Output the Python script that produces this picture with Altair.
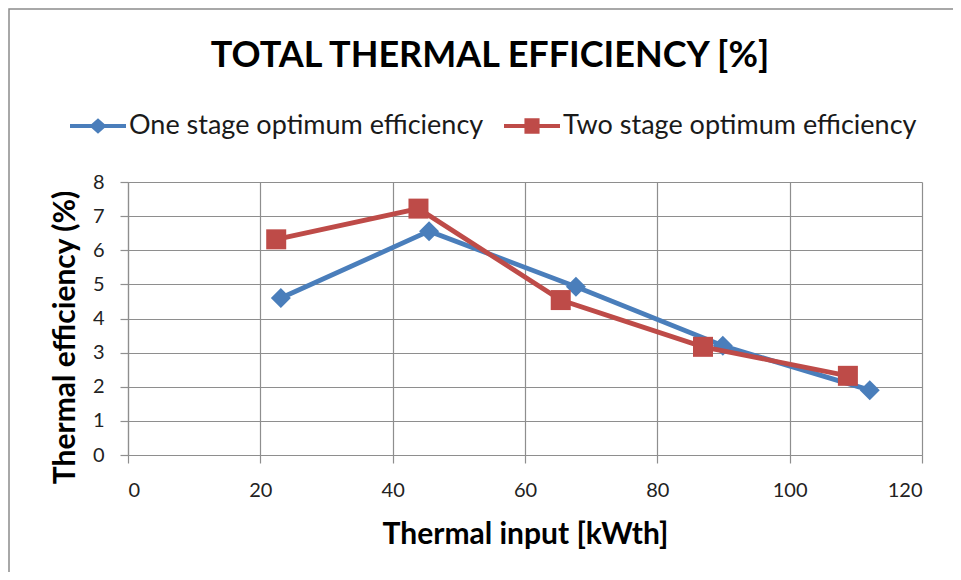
import altair as alt
import pandas as pd

# ---- data ----
series_names = ["One stage optimum efficiency", "Two stage optimum efficiency"]
one_x = [23.1, 45.5, 67.7, 89.9, 112.1]
one_y = [4.60, 6.56, 4.93, 3.20, 1.90]
two_x = [22.4, 43.9, 65.4, 86.9, 108.8]
two_y = [6.32, 7.22, 4.54, 3.17, 2.32]
x_ticks = [0, 20, 40, 60, 80, 100, 120]
y_ticks = [0, 1, 2, 3, 4, 5, 6, 7, 8]
colors = ["#4A7EBB", "#BE4B48"]

rows = []
for xv, yv in zip(one_x, one_y):
    rows.append({"series": series_names[0], "x": xv, "y": yv, "order": len(rows)})
for xv, yv in zip(two_x, two_y):
    rows.append({"series": series_names[1], "x": xv, "y": yv, "order": len(rows)})
df = pd.DataFrame(rows)

FONT = "Lato"
GRID = "#8e8e8e"

# legend symbols: line segment + marker (custom SVG paths in unit box)
legend_paths = [
    "M-1,-0.075L1,-0.075L1,0.075L-1,0.075Z M0,-0.28L0.31,0L0,0.28L-0.31,0Z",
    "M-1,-0.075L1,-0.075L1,0.075L-1,0.075Z M-0.27,-0.28L0.27,-0.28L0.27,0.28L-0.27,0.28Z",
]

xscale = alt.Scale(domain=[0, 120], nice=False, zero=False)
yscale = alt.Scale(domain=[0, 8], nice=False)
cscale = alt.Scale(domain=series_names, range=colors)

X = alt.X("x:Q", scale=xscale,
          axis=alt.Axis(values=x_ticks, title="Thermal input [kWth]", grid=True))
Y = alt.Y("y:Q", scale=yscale,
          axis=alt.Axis(values=y_ticks, title="Thermal efficiency (%)", grid=True))

base = alt.Chart(df)

layers = []
for i, name in enumerate(series_names):
    sub = base.transform_filter(alt.datum.series == name)
    line = sub.mark_line(strokeWidth=4.8, color=colors[i]).encode(
        x=X, y=Y, order="order:Q",
    )
    pts = sub.mark_point(
        filled=True, opacity=1, size=400, color=colors[i],
        shape="diamond" if i == 0 else "square",
    ).encode(x=X, y=Y)
    layers += [line, pts]

# invisible layer (size 0) that only carries the combined colour/shape legend
legend_layer = base.mark_point(filled=True, opacity=1, size=0).encode(
    x=X, y=Y,
    color=alt.Color("series:N", scale=cscale, legend=alt.Legend(title=None)),
    shape=alt.Shape("series:N", scale=alt.Scale(domain=series_names, range=legend_paths),
                    legend=alt.Legend(title=None)),
)

frame = alt.Chart(pd.DataFrame({"k": [0]})).mark_rect(
    fill=None, stroke="#8c8c8c", strokeWidth=1.5
).encode(
    x=alt.value(-119), x2=alt.value(2000), y=alt.value(-173), y2=alt.value(2000)
)

chart = alt.layer(frame, *layers, legend_layer).properties(
    width=794, height=273,
    autosize=alt.AutoSizeParams(type="none"),
    padding={"left": 120, "top": 174, "right": 31, "bottom": 117},
    title=alt.TitleParams(
        "TOTAL THERMAL EFFICIENCY [%]", font=FONT, fontSize=36, fontWeight="bold",
        color="#000000", anchor="middle", frame="group", dx=-35, offset=-95,
        baseline="alphabetic",
    ),
).configure_view(stroke=None).configure_axis(
    gridColor=GRID, gridWidth=1.2, gridOpacity=1,
    domainColor=GRID, domainWidth=1.2,
    tickColor=GRID, tickWidth=1.2, tickSize=8,
    labelFont=FONT, labelFontSize=20, labelColor="#222222",
    titleFont=FONT, titleFontSize=30, titleFontWeight="bold", titleColor="#000000",
).configure_axisX(
    labelPadding=17, titlePadding=19,
).configure_axisY(
    labelPadding=16, titlePadding=12, titleY=155,
).configure_legend(
    orient="none", legendX=-58, legendY=-84, direction="horizontal",
    symbolSize=3136, symbolStrokeWidth=0, symbolOpacity=1,
    labelFont=FONT, labelFontSize=27, labelColor="#1a1a1a", labelOffset=3,
    columnPadding=20, padding=0, labelLimit=500,
)

chart.save("out.html", embed_options={"renderer": "svg", "actions": False})
